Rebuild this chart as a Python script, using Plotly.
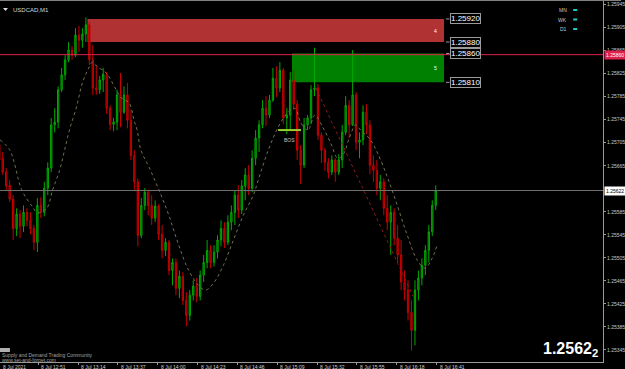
import plotly.graph_objects as go

# ---------------- data ----------------
bar_minute = list(range(0, 254, 2))  # minutes after 8 Jul 12:28 (2-minute bars)

open_ = [1.25701,1.25678,1.25654,1.25631,1.25607,1.25556,1.25581,1.25560,1.25584,1.25570,
         1.25556,1.25532,1.25596,1.25584,1.25626,1.25661,1.25736,1.25741,1.25797,1.25823,
         1.25849,1.25866,1.25857,1.25892,1.25883,1.25894,1.25910,1.25849,1.25800,1.25797,
         1.25814,1.25824,1.25765,1.25737,1.25741,1.25788,1.25758,1.25788,1.25744,1.25683,
         1.25637,1.25544,1.25596,1.25619,1.25596,1.25574,1.25595,1.25546,1.25518,1.25532,
         1.25483,1.25497,1.25452,1.25473,1.25431,1.25405,1.25440,1.25456,1.25438,1.25475,
         1.25497,1.25518,1.25497,1.25515,1.25536,1.25556,1.25532,1.25567,1.25584,1.25614,
         1.25588,1.25630,1.25649,1.25626,1.25678,1.25713,1.25736,1.25765,1.25753,1.25779,
         1.25817,1.25800,1.25831,1.25748,1.25753,1.25814,1.25772,1.25692,1.25666,1.25736,
         1.25748,1.25797,1.25800,1.25718,1.25692,1.25671,1.25654,1.25675,1.25654,1.25675,
         1.25723,1.25770,1.25736,1.25788,1.25706,1.25710,1.25758,1.25736,1.25666,1.25657,
         1.25626,1.25637,1.25591,1.25567,1.25584,1.25539,1.25510,1.25463,1.25449,1.25410,
         1.25379,1.25449,1.25470,1.25492,1.25518,1.25550,1.25596]
high = [1.25718,1.25689,1.25661,1.25640,1.25614,1.25591,1.25588,1.25596,1.25591,1.25584,
        1.25562,1.25609,1.25610,1.25637,1.25671,1.25748,1.25765,1.25803,1.25835,1.25857,
        1.25880,1.25873,1.25904,1.25908,1.25904,1.25923,1.25915,1.25875,1.25840,1.25821,
        1.25835,1.25828,1.25770,1.25748,1.25797,1.25826,1.25803,1.25809,1.25762,1.25692,
        1.25643,1.25609,1.25626,1.25623,1.25614,1.25605,1.25598,1.25562,1.25539,1.25536,
        1.25504,1.25504,1.25483,1.25480,1.25445,1.25449,1.25466,1.25470,1.25483,1.25510,
        1.25536,1.25527,1.25527,1.25544,1.25570,1.25567,1.25579,1.25596,1.25623,1.25631,
        1.25640,1.25661,1.25666,1.25692,1.25727,1.25744,1.25779,1.25786,1.25788,1.25835,
        1.25838,1.25845,1.25835,1.25765,1.25828,1.25831,1.25779,1.25701,1.25748,1.25753,
        1.25805,1.25870,1.25807,1.25723,1.25696,1.25678,1.25683,1.25678,1.25685,1.25736,
        1.25786,1.25779,1.25866,1.25793,1.25723,1.25770,1.25772,1.25744,1.25683,1.25675,
        1.25649,1.25643,1.25614,1.25596,1.25591,1.25562,1.25536,1.25483,1.25466,1.25431,
        1.25466,1.25483,1.25504,1.25527,1.25562,1.25605,1.25631]
low = [1.25666,1.25649,1.25623,1.25602,1.25536,1.25543,1.25539,1.25550,1.25560,1.25546,
       1.25518,1.25515,1.25574,1.25577,1.25614,1.25654,1.25723,1.25730,1.25793,1.25814,
       1.25845,1.25849,1.25854,1.25863,1.25870,1.25880,1.25840,1.25788,1.25788,1.25790,
       1.25793,1.25755,1.25727,1.25725,1.25727,1.25732,1.25755,1.25730,1.25675,1.25623,
       1.25525,1.25539,1.25588,1.25579,1.25562,1.25567,1.25536,1.25504,1.25508,1.25475,
       1.25457,1.25440,1.25435,1.25423,1.25386,1.25396,1.25431,1.25428,1.25431,1.25463,
       1.25487,1.25487,1.25490,1.25504,1.25525,1.25522,1.25527,1.25553,1.25562,1.25574,
       1.25581,1.25605,1.25614,1.25619,1.25666,1.25689,1.25730,1.25734,1.25748,1.25776,
       1.25784,1.25793,1.25737,1.25720,1.25727,1.25762,1.25675,1.25633,1.25661,1.25727,
       1.25737,1.25786,1.25710,1.25670,1.25656,1.25643,1.25649,1.25637,1.25649,1.25661,
       1.25718,1.25713,1.25734,1.25692,1.25678,1.25701,1.25720,1.25650,1.25637,1.25614,
       1.25605,1.25579,1.25553,1.25510,1.25527,1.25497,1.25449,1.25431,1.25396,1.25344,
       1.25353,1.25431,1.25457,1.25475,1.25497,1.25543,1.25588]
close = [1.25675,1.25654,1.25630,1.25607,1.25556,1.25581,1.25560,1.25584,1.25570,1.25556,
         1.25532,1.25596,1.25584,1.25626,1.25661,1.25736,1.25741,1.25797,1.25823,1.25849,
         1.25866,1.25857,1.25892,1.25883,1.25894,1.25910,1.25849,1.25800,1.25797,1.25814,
         1.25824,1.25765,1.25737,1.25741,1.25788,1.25758,1.25788,1.25744,1.25683,1.25637,
         1.25544,1.25596,1.25619,1.25596,1.25574,1.25595,1.25546,1.25518,1.25532,1.25483,
         1.25497,1.25452,1.25473,1.25431,1.25405,1.25440,1.25456,1.25438,1.25475,1.25497,
         1.25518,1.25497,1.25515,1.25536,1.25556,1.25532,1.25567,1.25584,1.25614,1.25588,
         1.25630,1.25649,1.25626,1.25678,1.25713,1.25736,1.25765,1.25753,1.25779,1.25817,
         1.25800,1.25831,1.25748,1.25753,1.25814,1.25772,1.25692,1.25666,1.25736,1.25748,
         1.25797,1.25800,1.25718,1.25692,1.25671,1.25654,1.25675,1.25654,1.25675,1.25723,
         1.25770,1.25736,1.25788,1.25706,1.25710,1.25758,1.25736,1.25666,1.25657,1.25626,
         1.25637,1.25591,1.25567,1.25584,1.25539,1.25510,1.25463,1.25449,1.25410,1.25379,
         1.25449,1.25470,1.25492,1.25518,1.25550,1.25596,1.25622]

ma_minute = [0.9,6.6,13.5,19.8,22.7,27.9,31.3,35.3,38.2,41.0,45.1,48.5,52.5,54.2,57.1,62.3,68.0,70.9,
             75.5,78.3,80.1,82.3,86.9,92.7,98.4,104.1,109.9,115.6,119.6,124.2,129.9,135.7,141.4,
             147.2,150.0,155.8,161.5,167.2,171.2,174.7,178.7,182.7,187.3,191.9,195.9,198.8,202.8,
             206.2,209.1,214.8,218.9,224.6,230.3,236.1,241.8,246.4,250.4,253.3]
ma_price = [1.25710,1.25692,1.25623,1.25593,1.25583,1.25591,1.25623,1.25657,1.25692,1.25727,
            1.25767,1.25809,1.25837,1.25845,1.25837,1.25826,1.25797,1.25783,1.25774,1.25744,
            1.25727,1.25692,1.25663,1.25623,1.25579,1.25527,1.25483,1.25457,1.25449,1.25461,
            1.25492,1.25536,1.25579,1.25614,1.25640,1.25692,1.25732,1.25758,1.25765,1.25739,
            1.25727,1.25753,1.25732,1.25704,1.25678,1.25683,1.25715,1.25736,1.25727,1.25710,
            1.25687,1.25645,1.25596,1.25544,1.25501,1.25487,1.25504,1.25527]

time_tick_minute = [0, 23, 46, 69, 92, 115, 138, 161, 184, 207, 230, 253]
time_tick_text = ["8 Jul 2021", "8 Jul 12:51", "8 Jul 13:14", "8 Jul 13:37", "8 Jul 14:00",
                  "8 Jul 14:23", "8 Jul 14:46", "8 Jul 15:09", "8 Jul 15:32", "8 Jul 15:55",
                  "8 Jul 16:18", "8 Jul 16:41"]
price_ticks = [1.25945, 1.25905, 1.25865, 1.25825, 1.25785, 1.25745, 1.25705, 1.25665,
               1.25585, 1.25545, 1.25505, 1.25465, 1.25425, 1.25385, 1.25345]

supply_zone = {"start": 51.4, "end": 257.3, "low": 1.25880, "high": 1.25920, "id": "4"}
demand_zone = {"start": 169.5, "end": 257.3, "low": 1.25810, "high": 1.25860, "id": "5"}
bos = {"start": 161.5, "end": 174.7, "price": 1.25727}
trend_minute = [183.3, 239.5]
trend_price = [1.25800, 1.25438]
red_line_price = 1.25858
last_price = 1.25622

# ---------------- figure ----------------
W, H = 625, 369
PW, PH = 607, 362
X0 = 0.92
PXM = 1.7435
XR = [X0, X0 + PW / PXM]
YR = [1.25324, 1.25953]

FONT = "Liberation Sans"


def pxx(px):
    return px / PW


def pyy(py):
    return 1 - py / PH


fig = go.Figure()

fig.add_trace(go.Candlestick(
    x=[m + 0.5 for m in bar_minute], open=open_, high=high, low=low, close=close,
    increasing=dict(line=dict(color="#00A800", width=1), fillcolor="#005800"),
    decreasing=dict(line=dict(color="#C80000", width=1), fillcolor="#780000"),
    whiskerwidth=0, showlegend=False, hoverinfo="skip"))

fig.add_trace(go.Scatter(
    x=ma_minute, y=ma_price, mode="lines",
    line=dict(color="#707052", width=1, dash="dot", shape="spline"),
    showlegend=False, hoverinfo="skip"))

fig.add_trace(go.Scatter(
    x=trend_minute, y=trend_price, mode="lines", line=dict(color="#8B1A1A", width=1, dash="dot"),
    showlegend=False, hoverinfo="skip"))

shapes = []
for z, col in ((supply_zone, "#B03232"), (demand_zone, "#008000")):
    shapes.append(dict(type="rect", xref="x", yref="y", x0=z["start"], x1=z["end"],
                       y0=z["low"], y1=z["high"], fillcolor=col, line=dict(width=0), layer="below"))
shapes.append(dict(type="line", xref="paper", yref="y", x0=0, x1=1, y0=red_line_price, y1=red_line_price,
                   line=dict(color="#E0204C", width=1)))
shapes.append(dict(type="line", xref="paper", yref="y", x0=0, x1=1, y0=last_price, y1=last_price,
                   line=dict(color="#707070", width=1)))
shapes.append(dict(type="line", xref="x", yref="y", x0=bos["start"], x1=bos["end"], y0=bos["price"],
                   y1=bos["price"], line=dict(color="#9ACD32", width=2)))
shapes.append(dict(type="line", xref="paper", yref="paper", x0=0, x1=1.03, y0=1, y1=1,
                   line=dict(color="#808080", width=2)))
# small menu triangle, top-left
shapes.append(dict(type="path", xref="paper", yref="paper",
                   path=f"M {pxx(3)} {pyy(8)} L {pxx(8)} {pyy(8)} L {pxx(5.5)} {pyy(11)} Z",
                   fillcolor="#D8D8D8", line=dict(width=0)))

annotations = []
for price in (supply_zone["high"], supply_zone["low"], demand_zone["high"], demand_zone["low"]):
    annotations.append(dict(xref="paper", yref="y", x=pxx(453), y=price, xanchor="left", yanchor="middle",
                            text=f"{price:.5f}", showarrow=False, font=dict(color="white", size=8, family=FONT),
                            bgcolor="black", bordercolor="#9a9a9a", borderwidth=1, borderpad=0))
    shapes.append(dict(type="line", xref="paper", yref="y", x0=pxx(449), x1=pxx(452.5), y0=price, y1=price,
                       line=dict(color="#9a9a9a", width=1)))
for z in (supply_zone, demand_zone):
    annotations.append(dict(xref="paper", yref="y", x=pxx(442), y=(z["low"] + z["high"]) / 2, text=z["id"],
                            showarrow=False, font=dict(color="white", size=5, family=FONT)))

annotations.append(dict(xref="x", yref="y", x=(bos["start"] + bos["end"]) / 2, y=bos["price"] - 0.00018,
                        text="BOS", showarrow=False, font=dict(color="#C0C8D8", size=5, family=FONT)))

for m, t in zip(time_tick_minute, time_tick_text):
    px = max(0.0, (m - X0) * PXM)
    annotations.append(dict(xref="paper", yref="paper", x=pxx(px), y=0, xanchor="left", yanchor="top", xshift=1,
                            text=t, showarrow=False, font=dict(color="#D0D0D0", size=5, family=FONT)))

annotations.append(dict(xref="paper", yref="y", x=1, y=last_price, xanchor="left", yanchor="middle", xshift=1,
                        text=f"{last_price:.5f}", showarrow=False, bgcolor="white",
                        font=dict(color="black", size=5, family=FONT), borderpad=1))
annotations.append(dict(xref="paper", yref="y", x=1, y=red_line_price, xanchor="left", yanchor="middle", xshift=1,
                        text="1.25860", showarrow=False, bgcolor="#E0204C",
                        font=dict(color="white", size=5, family=FONT), borderpad=1))

annotations.append(dict(xref="paper", yref="paper", x=pxx(11), y=pyy(10), xanchor="left", yanchor="middle",
                        text="USDCAD,M1", showarrow=False, font=dict(color="#D8D8D8", size=6, family=FONT)))
for i, tf in enumerate(["MN", "WK", "D1"]):
    yy = 10 + i * 9.5
    annotations.append(dict(xref="paper", yref="paper", x=pxx(573), y=pyy(yy), xanchor="right", yanchor="middle",
                            text=tf, showarrow=False, font=dict(color="#C8C8C8", size=5, family=FONT)))
    shapes.append(dict(type="rect", xref="paper", yref="paper", x0=pxx(577), x1=pxx(581), y0=pyy(yy + 1),
                       y1=pyy(yy - 1), fillcolor="#20C8C8", line=dict(width=0)))

shapes.append(dict(type="rect", xref="paper", yref="paper", x0=pxx(0), x1=pxx(10), y0=pyy(352), y1=pyy(348),
                   fillcolor="#B0B0B0", line=dict(width=0)))
annotations.append(dict(xref="paper", yref="paper", x=pxx(0), y=pyy(355), xanchor="left", yanchor="middle",
                        text="Supply and Demand Trading Community", showarrow=False,
                        font=dict(color="#A0A0A0", size=5, family=FONT)))
annotations.append(dict(xref="paper", yref="paper", x=pxx(0), y=pyy(359.5), xanchor="left", yanchor="middle",
                        text="www.set-and-forget.com", showarrow=False,
                        font=dict(color="#A0A0A0", size=5, family=FONT)))

annotations.append(dict(xref="paper", yref="paper", x=pxx(604), y=pyy(361), xanchor="right", yanchor="bottom",
                        text="<b>1.2562<sub>2</sub></b>", showarrow=False,
                        font=dict(color="white", size=16, family="Liberation Sans Narrow, Liberation Sans")))

fig.update_layout(
    width=W, height=H, margin=dict(l=0, r=W - PW, t=0, b=H - PH),
    paper_bgcolor="black", plot_bgcolor="black", boxgap=0.45,
    shapes=shapes, annotations=annotations, showlegend=False,
    xaxis=dict(range=XR, showgrid=False, zeroline=False, showline=True, linecolor="#9a9a9a", linewidth=1,
               tickvals=time_tick_minute, showticklabels=False, ticks="outside", ticklen=2, tickcolor="#9a9a9a",
               rangeslider=dict(visible=False), fixedrange=True),
    yaxis=dict(range=YR, side="right", showgrid=False, zeroline=False, showline=True, linecolor="#9a9a9a",
               linewidth=1, tickvals=price_ticks, ticktext=[f"{p:.5f}" for p in price_ticks], ticks="outside",
               ticklen=2, tickcolor="#9a9a9a", tickfont=dict(color="#C8C8C8", size=5, family=FONT),
               fixedrange=True),
)

fig.write_html("out.html")
